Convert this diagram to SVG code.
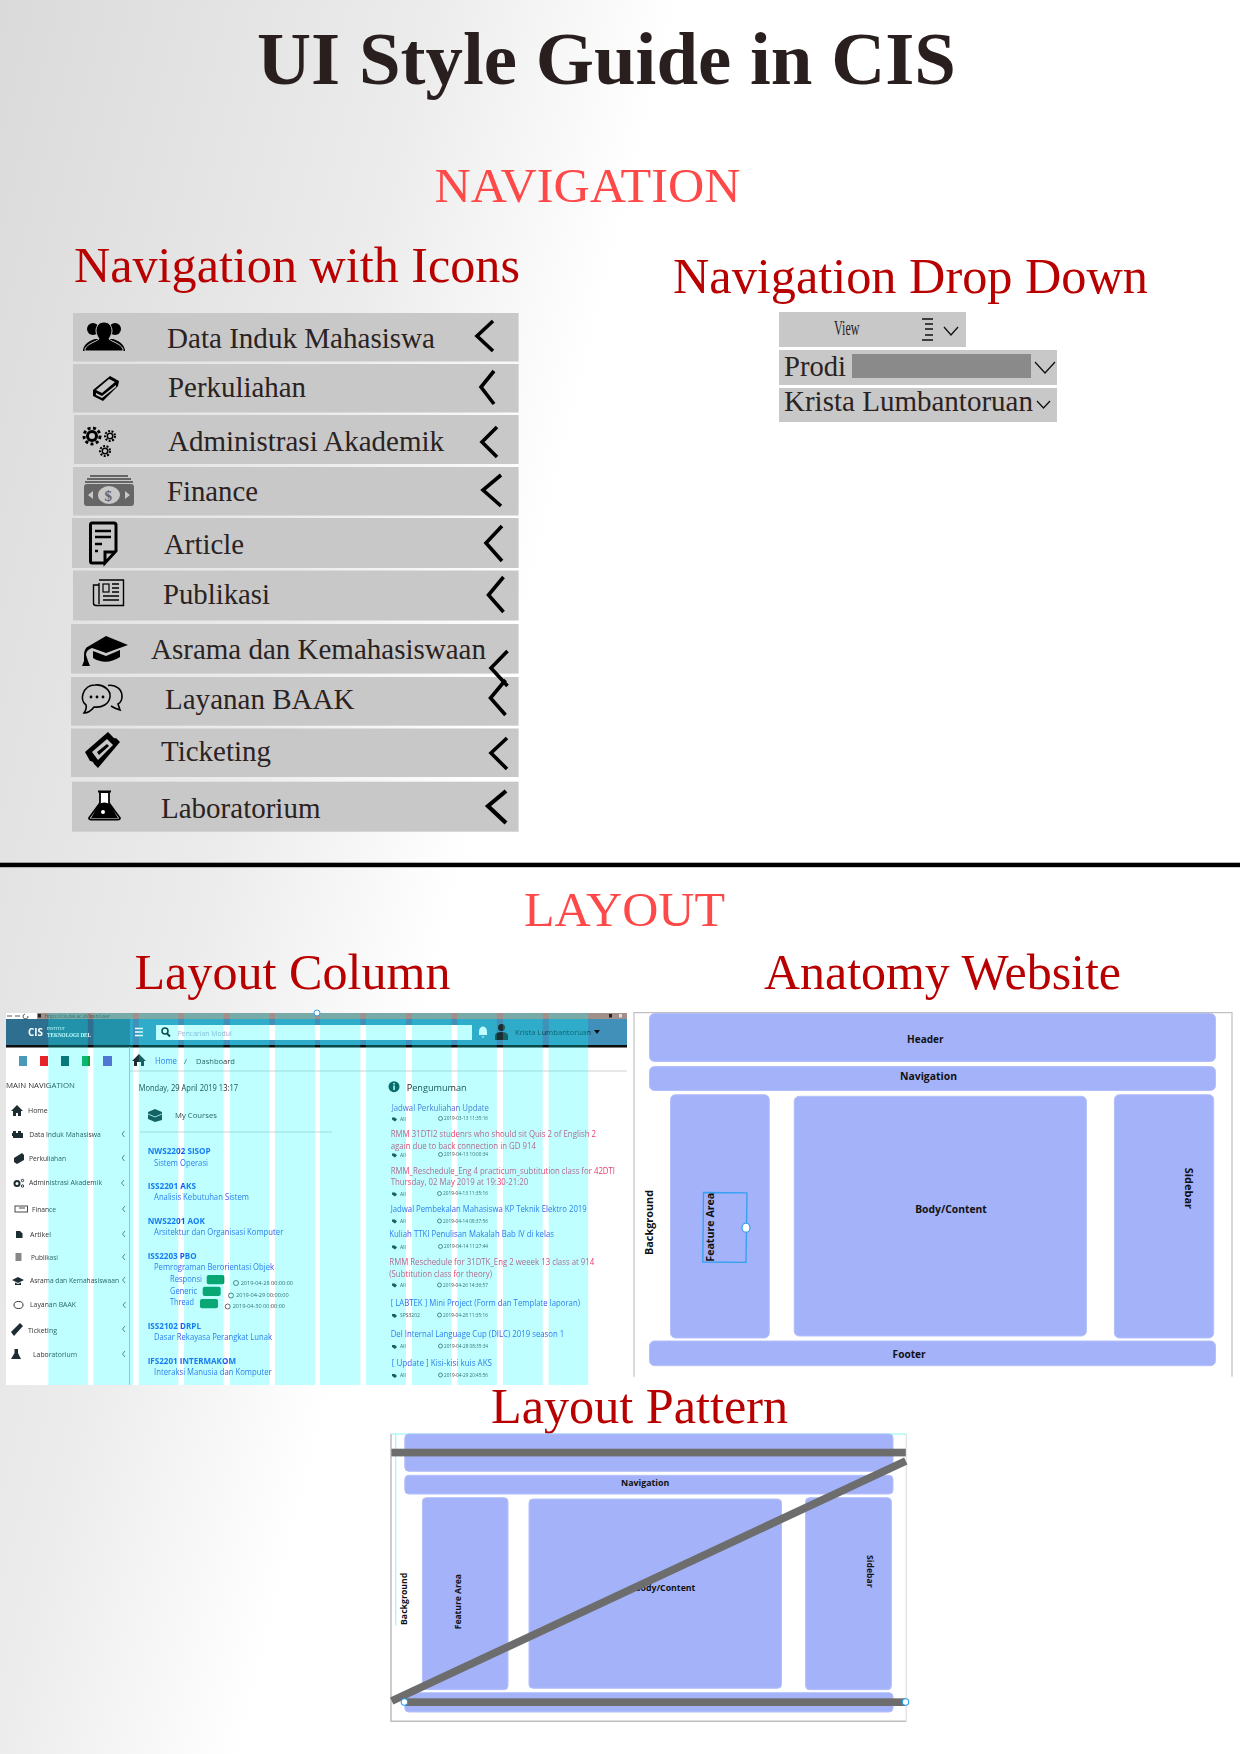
<svg xmlns="http://www.w3.org/2000/svg" width="1240" height="1754" viewBox="0 0 1240 1754">
<defs>
<linearGradient id="bg" gradientUnits="userSpaceOnUse" x1="0" y1="0" x2="640" y2="160">
<stop offset="0" stop-color="#dadada"/><stop offset="0.64" stop-color="#ececec"/><stop offset="1" stop-color="#ffffff"/>
</linearGradient>
<filter id="soft" x="-2%" y="-2%" width="104%" height="104%"><feGaussianBlur stdDeviation="0.35"/></filter>
</defs>
<style>
text{font-family:"Liberation Serif","Times New Roman",serif}
.h1{font-size:75px;font-weight:bold;fill:#2a1f1f}
.h2{font-size:48px;fill:#ff4848}
.h3{font-size:50px;fill:#b90000}
.row{fill:#c8c8c8}
.lbl{font-size:29px;fill:#2b2222}
.chev{fill:none;stroke:#000;stroke-width:3.6}
.thin{fill:none;stroke:#111;stroke-width:1.3}
.s{font-family:"Open Sans","Noto Sans",sans-serif;font-size:8px;fill:#333}
.b{font-family:"Open Sans","Noto Sans",sans-serif;font-size:8.5px;font-weight:bold;fill:#1c50f0}
.l{font-family:"Open Sans","Noto Sans",sans-serif;font-size:8.5px;fill:#3a55e8}
.r{font-family:"Open Sans","Noto Sans",sans-serif;font-size:8.5px;fill:#e83a68}
.t{font-family:"Open Sans","Noto Sans",sans-serif;font-size:5px;fill:#444}
.col{fill:#00ffff;opacity:.25}
.blk{fill:#a4b2f9;stroke:#b4c0fa;stroke-width:1}
.w{font-family:"Open Sans","Noto Sans",sans-serif;font-weight:bold;font-size:11px;fill:#111}
.bar{fill:#6d6d6d}
.ic{fill:#000}
.ico{fill:none;stroke:#000;stroke-width:2.4}
.mini{fill:#1f2f33}
.mc{fill:none;stroke:#555;stroke-width:.9}
</style>
<rect width="1240" height="1754" fill="url(#bg)"/>

<g id="titles">
<text class="h1" x="257" y="84" textLength="699" lengthAdjust="spacingAndGlyphs">UI Style Guide in CIS</text>
<text class="h2" x="434.500" y="201.700" textLength="306" lengthAdjust="spacingAndGlyphs">NAVIGATION</text>
<text class="h3" x="74" y="281.700" textLength="446" lengthAdjust="spacingAndGlyphs">Navigation with Icons</text>
<text class="h3" x="673" y="293.300" textLength="475" lengthAdjust="spacingAndGlyphs">Navigation Drop Down</text>
<text class="h2" x="524" y="926" textLength="201" lengthAdjust="spacingAndGlyphs">LAYOUT</text>
<text class="h3" x="134.500" y="989" textLength="316" lengthAdjust="spacingAndGlyphs">Layout Column</text>
<text class="h3" x="764" y="989" textLength="357" lengthAdjust="spacingAndGlyphs">Anatomy Website</text>
<text class="h3" x="491" y="1423" textLength="297" lengthAdjust="spacingAndGlyphs">Layout Pattern</text>
</g>
<rect id="divider" x="0" y="862.700" width="1240" height="4.500" fill="#000"/>

<g id="nav-data-induk">
<rect class="row" x="73" y="313" width="445.600" height="48.500"/>
<circle class="ic" cx="93" cy="329" r="6"/><circle class="ic" cx="115" cy="329" r="6"/>
<path class="ic" d="M83 350c1-6 6-9 12-11h12v12H83zM125 350c-1-6-6-9-12-11h-12v12h24z"/>
<path class="ic" stroke="#c8c8c8" stroke-width="1" d="M104 322c5 0 8 4 8 9 0 3-2 6-3 8 3 3 11 4 14 10v2H85v-2c3-6 11-7 14-10-1-2-3-5-3-8 0-5 3-9 8-9z"/>
<text class="lbl" x="167" y="348" textLength="268" lengthAdjust="spacingAndGlyphs">Data Induk Mahasiswa</text>
<path class="chev" d="M493 321L477 336L493 351"/>
</g>
<g id="nav-perkuliahan">
<rect class="row" x="73" y="364" width="445.600" height="48.500"/>
<path class="ic" d="M93 390L110 376L119 381L118 386L103 401L93 396z"/>
<path fill="#c8c8c8" d="M96 390L109 379L115 382L102 393zM96 393L102 396L116 385L116 387L102 398L96 395z"/>
<text class="lbl" x="168" y="397" textLength="138" lengthAdjust="spacingAndGlyphs">Perkuliahan</text>
<path class="chev" d="M494 371L481 387L494 404"/>
</g>
<g id="nav-administrasi">
<rect class="row" x="74" y="415" width="444.600" height="49"/>
<circle class="ic" cx="92" cy="436" r="6"/><circle fill="none" stroke="#000" stroke-width="3" stroke-dasharray="3 2.500" cx="92" cy="436" r="8"/><circle class="row" cx="92" cy="436" r="3"/>
<circle class="ic" cx="110" cy="436" r="3.500"/><circle fill="none" stroke="#000" stroke-width="2" stroke-dasharray="2 1.500" cx="110" cy="436" r="5"/><circle class="row" cx="110" cy="436" r="2"/>
<circle class="ic" cx="105" cy="451" r="3.500"/><circle fill="none" stroke="#000" stroke-width="2" stroke-dasharray="2 1.500" cx="105" cy="451" r="5"/><circle class="row" cx="105" cy="451" r="2"/>
<text class="lbl" x="168" y="451" textLength="276" lengthAdjust="spacingAndGlyphs">Administrasi Akademik</text>
<path class="chev" d="M497 427L482 442L497 457"/>
</g>
<g id="nav-finance">
<rect class="row" x="73" y="467" width="445.600" height="48.500"/>
<path fill="none" stroke="#666" stroke-width="1.800" d="M90 476H128M87 479H131M85 482H133"/>
<rect x="84" y="484" width="50" height="22" rx="3" fill="#666"/>
<ellipse cx="109" cy="495" rx="11" ry="9" fill="#c8c8c8"/>
<path fill="#c8c8c8" d="M93 491L88 495L93 499zM125 491L130 495L125 499z"/>
<text x="104.500" y="500.500" font-size="15" font-weight="bold" fill="#666">$</text>
<text class="lbl" x="167" y="501" textLength="91" lengthAdjust="spacingAndGlyphs">Finance</text>
<path class="chev" d="M501 475L483 490L501 506"/>
</g>
<g id="nav-article">
<rect class="row" x="72" y="518" width="446.600" height="50"/>
<path fill="none" stroke="#000" stroke-width="3" d="M105 563H92Q90.500 563 90.500 561V525Q90.500 523 92 523H114Q116 523 116 525V551L105 563V552H116"/>
<path fill="none" stroke="#000" stroke-width="2.600" d="M95 531H111M95 537H111M95 544H102M95 551H98"/>
<text class="lbl" x="164" y="554" textLength="80" lengthAdjust="spacingAndGlyphs">Article</text>
<path class="chev" d="M502 526L486 543L502 561"/>
</g>
<g id="nav-publikasi">
<rect class="row" x="73" y="570.500" width="445.600" height="50"/>
<path fill="none" stroke="#000" stroke-width="1.400" d="M99 583V604M99 580H123.500V605.500H96Q93.500 605.500 93.500 603V585H99M103 596H119M103 600H119M112 584H119M112 588H119M112 592H119"/>
<rect x="103" y="584" width="6" height="8" fill="none" stroke="#000" stroke-width="1.200"/>
<text class="lbl" x="163" y="604" textLength="107" lengthAdjust="spacingAndGlyphs">Publikasi</text>
<path class="chev" d="M503.500 577L488.500 595L503.500 612"/>
</g>
<g id="nav-layanan">
<rect class="row" x="71" y="677" width="447.600" height="48.700"/>
<path fill="none" stroke="#000" stroke-width="1.600" d="M95 685C103 684 111 690 110 697C109 704 102 708 94 707C91 711 87 713 84 713C86 710 87 708 86 705C82 702 82 697 83 694C85 688 90 685 95 685z"/>
<path fill="none" stroke="#000" stroke-width="1.600" d="M108 685.500C116 684 122 690 122 696C122 700 120 703 118 704L120 710C117 709 114 708 111 706"/>
<circle class="ic" cx="91" cy="697" r="1.400"/><circle class="ic" cx="97" cy="697" r="1.400"/><circle class="ic" cx="103" cy="697" r="1.400"/>
<text class="lbl" x="165" y="709" textLength="189.500" lengthAdjust="spacingAndGlyphs">Layanan BAAK</text>
<path class="chev" d="M505.500 680L490.500 698L505.500 715"/>
</g>
<g id="nav-asrama">
<rect class="row" x="71" y="624" width="447.600" height="49.600"/>
<path class="ic" d="M106 636L128 645L106 653L92 648Q86 650 86 655L88 661L90 666H82L84 661L84 655Q84 648 89 646z"/>
<path class="ic" d="M93 651L106 656L120 650V657Q106 666 93 658z"/>
<text class="lbl" x="151" y="659" textLength="335" lengthAdjust="spacingAndGlyphs">Asrama dan Kemahasiswaan</text>
<path class="chev" d="M507.500 651L491 668L507.500 686"/>
</g>
<g id="nav-ticketing">
<rect class="row" x="71" y="728.500" width="447.600" height="48.500"/>
<path class="ic" d="M85 752L108 732L112 736Q114 739 116 738L120 742L98 768L94 764Q93 761 90 761z"/>
<path fill="#c8c8c8" d="M92 752L107 739L113 745L98 760z"/>
<path class="ic" d="M97 752L107 744L109 746L99 755z"/>
<text class="lbl" x="161" y="761" textLength="110" lengthAdjust="spacingAndGlyphs">Ticketing</text>
<path class="chev" d="M507 738L491 753L507 769"/>
</g>
<g id="nav-laboratorium">
<rect class="row" x="72" y="781.700" width="446.600" height="50"/>
<path fill="#fff" stroke="#000" stroke-width="1.800" d="M98 791.500H111M100 792V803L89 818Q89 819.500 91 819.500H118Q120 819.500 120 818L109 803V792z"/>
<path class="ic" d="M99 804Q104 801 110 804L118 818H91z"/>
<circle fill="#fff" cx="103" cy="812" r="2"/>
<text class="lbl" x="161" y="818" textLength="159.500" lengthAdjust="spacingAndGlyphs">Laboratorium</text>
<path class="chev" style="stroke-width:4.200" d="M506 791L488 806L506 823"/>
</g>

<g id="dropdown-view">
<rect class="row" x="779" y="312" width="187" height="35"/>
<text x="834" y="335" font-size="21" fill="#2b2222" textLength="25.500" lengthAdjust="spacingAndGlyphs">View</text>
<path class="thin" d="M922 319H933M925 324H933M925 329H933M925 335H933M922 340H933"/>
<path class="thin" d="M944 327L951 335L958 327"/>
</g>
<g id="dropdown-prodi">
<rect class="row" x="779" y="350" width="278" height="35"/>
<text class="lbl" x="784" y="376" textLength="62" lengthAdjust="spacingAndGlyphs">Prodi</text>
<rect x="852" y="354" width="179" height="24" fill="#8a8a8a"/>
<path class="thin" d="M1035 362L1045 373L1055 362"/>
</g>
<g id="dropdown-krista">
<rect class="row" x="779" y="388" width="278" height="34"/>
<text class="lbl" x="784" y="411" textLength="249" lengthAdjust="spacingAndGlyphs">Krista Lumbantoruan</text>
<path class="thin" d="M1037 401L1043.500 408L1050 401"/>
</g>

<g id="layout-column">
<rect x="6" y="1013" width="621" height="372" fill="#fff"/>
<g filter="url(#soft)">
<rect x="37" y="1013" width="590" height="6" fill="#a08f8a"/>
<rect x="6" y="1019" width="621" height="26" fill="#3f90ba"/>
<rect x="6" y="1019" width="124" height="26" fill="#2f6e8e"/>
<rect x="6" y="1045" width="621" height="2.500" fill="#0a0a0a"/>
<path fill="none" stroke="#333" stroke-width=".8" d="M7 1016H12M15 1016H20M25 1014A2.500 2.500 0 1 0 28 1016"/>
<rect x="38" y="1014" width="3" height="3.500" fill="#222"/>
<text class="t" x="45" y="1017.500" textLength="65" lengthAdjust="spacingAndGlyphs">https://cis.del.ac.id/loon/user</text>
<rect x="609" y="1014" width="3" height="3.500" fill="#222"/><rect x="619" y="1014" width="3" height="3.500" fill="#ddd"/>
<text x="28" y="1035.700" style="font-family:'Open Sans',sans-serif;font-size:11px;font-weight:bold;fill:#fff" textLength="15" lengthAdjust="spacingAndGlyphs">CIS</text>
<text x="47" y="1030" style="font-family:'Liberation Serif',serif;font-size:4px;fill:#fff">INSTITUT</text>
<text x="47" y="1036.700" style="font-family:'Liberation Serif',serif;font-size:5.500px;font-weight:bold;fill:#fff" textLength="44" lengthAdjust="spacingAndGlyphs">TEKNOLOGI DEL</text>
<path stroke="#fff" stroke-width="1.300" d="M135 1028.500H143M135 1032H143M135 1035.500H143"/>
<rect x="156" y="1025" width="316" height="15" fill="#fff"/>
<circle cx="165" cy="1031" r="3" fill="none" stroke="#111" stroke-width="1.500"/><path stroke="#111" stroke-width="1.800" d="M167 1033.500L170 1036.500"/>
<text class="s" x="177.700" y="1035.700" style="fill:#aac" textLength="54" lengthAdjust="spacingAndGlyphs">Pencarian Modul</text>
<path fill="#fff" d="M483 1026.500Q479 1027 479 1032V1035H487V1032Q487 1027 483 1026.500zM481.500 1036.500H484.500L483 1038z"/>
<circle class="mini" cx="501.500" cy="1027.500" r="3.500"/><path class="mini" d="M495 1040V1035Q496 1032 501.500 1032Q507 1032 508 1035V1040z"/>
<text class="s" x="515" y="1035" style="fill:#15303c" textLength="76" lengthAdjust="spacingAndGlyphs">Krista Lumbantoruan</text>
<path fill="#111" d="M594 1030H600L597 1034z"/>

<rect x="19" y="1056" width="8" height="10" fill="#4a9ab8"/><rect x="40" y="1056" width="8" height="10" fill="#e8202c"/><rect x="61" y="1056" width="8" height="10" fill="#0e4c4c"/><rect x="82" y="1056" width="8" height="10" fill="#10a040"/><rect x="103" y="1056" width="9" height="10" fill="#6a48c0"/>
<text class="s" x="6" y="1088" textLength="69" lengthAdjust="spacingAndGlyphs">MAIN NAVIGATION</text>
<path d="M129.500 1047V1385" stroke="#bdbdbd" stroke-width="1"/>
<path d="M130 1071H627M140 1132H332" stroke="#d0d0d0" stroke-width="1"/>
<path class="mini" d="M17 1105L23 1111H21V1116H18V1113H16V1116H13V1111H11z"/>
<text class="s" x="28" y="1113" style="font-size:7px">Home</text>
<path class="mini" d="M13 1131h3v2h2v-2h3v2h2v5H13v-2h-1v-3h1z"/>
<text class="s" x="29.300" y="1137.300" style="font-size:7px" textLength="71.400" lengthAdjust="spacingAndGlyphs">Data Induk Mahasiswa</text>
<path class="mini" d="M14 1158L22 1153L24 1155L24 1160L17 1164L14 1162z"/>
<text class="s" x="29" y="1161" style="font-size:7px" textLength="37" lengthAdjust="spacingAndGlyphs">Perkuliahan</text>
<circle cx="17" cy="1183.500" r="2.500" fill="none" stroke="#1f2f33" stroke-width="2"/><circle cx="22.500" cy="1180.500" r="1.200" fill="none" stroke="#1f2f33" stroke-width="1"/><circle cx="22.500" cy="1186" r="1.200" fill="none" stroke="#1f2f33" stroke-width="1"/>
<text class="s" x="29" y="1185" style="font-size:7px" textLength="73" lengthAdjust="spacingAndGlyphs">Administrasi Akademik</text>
<rect x="15" y="1206" width="12.500" height="6" fill="none" stroke="#333" stroke-width=".9"/><path stroke="#333" stroke-width=".9" d="M19 1208H25"/>
<text class="s" x="32" y="1212" style="font-size:7px" textLength="24" lengthAdjust="spacingAndGlyphs">Finance</text>
<path class="mini" d="M16 1231H20L22.500 1233.500V1238H16z"/>
<text class="s" x="30" y="1236.700" style="font-size:7px" textLength="21" lengthAdjust="spacingAndGlyphs">Artikel</text>
<rect x="15.500" y="1253" width="6" height="8" fill="#888"/>
<text class="s" x="31" y="1260" style="font-size:7px" textLength="27" lengthAdjust="spacingAndGlyphs">Publikasi</text>
<path class="mini" d="M18 1277L24 1280L18 1283L12 1280zM15 1282.500L18 1284L21 1282.500V1285H15z"/>
<text class="s" x="30" y="1283" style="font-size:7px" textLength="89" lengthAdjust="spacingAndGlyphs">Asrama dan Kemahasiswaan</text>
<ellipse cx="18.500" cy="1305" rx="4.500" ry="3.500" fill="none" stroke="#333" stroke-width="1"/>
<text class="s" x="30" y="1307" style="font-size:7px" textLength="46" lengthAdjust="spacingAndGlyphs">Layanan BAAK</text>
<path class="mini" d="M11 1332L20 1323L23 1326L14 1336z"/>
<text class="s" x="28" y="1333" style="font-size:7px" textLength="29" lengthAdjust="spacingAndGlyphs">Ticketing</text>
<path class="mini" d="M14.500 1349H18V1353L21 1359H11L14.500 1353z"/>
<text class="s" x="33" y="1357" style="font-size:7px" textLength="44" lengthAdjust="spacingAndGlyphs">Laboratorium</text>
<path class="mc" d="M124.500 1131L122 1134L124.500 1137M124.500 1155L122 1158L124.500 1161M124 1180L121.500 1183L124 1186M125 1206L122.500 1209L125 1212M125 1231L122.500 1234L125 1237M125 1254L122.500 1257L125 1260M125 1277L122.500 1280L125 1283M125.500 1302L123 1305L125.500 1308M125 1326L122.500 1329L125 1332M125 1351L122.500 1354L125 1357"/>

<path class="mini" d="M139 1054L146 1061H144V1066H141V1062H137V1066H134V1061H132z"/>
<text class="l" x="155" y="1064" textLength="22" lengthAdjust="spacingAndGlyphs">Home</text>
<text class="s" x="184" y="1064">/</text>
<text class="s" x="196" y="1064" textLength="39" lengthAdjust="spacingAndGlyphs">Dashboard</text>
<text class="s" x="138.700" y="1090.700" style="font-size:8.500px;fill:#222" textLength="99.300" lengthAdjust="spacingAndGlyphs">Monday, 29 April 2019 13:17</text>
<path class="mini" d="M148 1112L155 1109L162 1112V1120L155 1122L148 1119z"/><path stroke="#fff" stroke-width=".8" fill="none" d="M148 1114L155 1117L162 1114"/>
<text class="s" x="175" y="1118" textLength="42" lengthAdjust="spacingAndGlyphs">My Courses</text>

<text class="b" x="147.700" y="1154" textLength="63" lengthAdjust="spacingAndGlyphs">NWS2202 SISOP</text>
<text class="l" x="154" y="1165.700" textLength="54" lengthAdjust="spacingAndGlyphs">Sistem Operasi</text>
<text class="b" x="147.700" y="1189.300" textLength="48.300" lengthAdjust="spacingAndGlyphs">ISS2201 AKS</text>
<text class="l" x="154" y="1200.300" textLength="95" lengthAdjust="spacingAndGlyphs">Analisis Kebutuhan Sistem</text>
<text class="b" x="147.700" y="1224.300" textLength="57.300" lengthAdjust="spacingAndGlyphs">NWS2201 AOK</text>
<text class="l" x="154" y="1235.300" textLength="129.300" lengthAdjust="spacingAndGlyphs">Arsitektur dan Organisasi Komputer</text>
<text class="b" x="147.700" y="1259" textLength="49" lengthAdjust="spacingAndGlyphs">ISS2203 PBO</text>
<text class="l" x="154" y="1270" textLength="120" lengthAdjust="spacingAndGlyphs">Pemrograman Berorientasi Objek</text>
<text class="l" x="170" y="1281.700" textLength="32" lengthAdjust="spacingAndGlyphs">Responsi</text>
<rect x="206.700" y="1275" width="17.600" height="9.300" rx="2" fill="#0f8a45"/>
<text class="l" x="170" y="1294" textLength="27" lengthAdjust="spacingAndGlyphs">Generic</text>
<rect x="202.700" y="1286.700" width="18" height="9.300" rx="2" fill="#0f8a45"/>
<text class="l" x="170" y="1305" textLength="24" lengthAdjust="spacingAndGlyphs">Thread</text>
<rect x="200" y="1299" width="18" height="9.300" rx="2" fill="#0f8a45"/>
<circle class="mc" cx="236" cy="1283" r="2.500"/><text class="t" x="240.700" y="1285" style="font-size:6px" textLength="52.300" lengthAdjust="spacingAndGlyphs">2019-04-28 00:00:00</text>
<circle class="mc" cx="231" cy="1295.500" r="2.500"/><text class="t" x="236" y="1297.300" style="font-size:6px" textLength="52.700" lengthAdjust="spacingAndGlyphs">2019-04-29 00:00:00</text>
<circle class="mc" cx="227.700" cy="1306.500" r="2.500"/><text class="t" x="232.700" y="1308.300" style="font-size:6px" textLength="52.300" lengthAdjust="spacingAndGlyphs">2019-04-30 00:00:00</text>
<text class="b" x="147.700" y="1329" textLength="53.300" lengthAdjust="spacingAndGlyphs">ISS2102 DRPL</text>
<text class="l" x="154" y="1340" textLength="118" lengthAdjust="spacingAndGlyphs">Dasar Rekayasa Perangkat Lunak</text>
<text class="b" x="147.700" y="1363.700" textLength="88.300" lengthAdjust="spacingAndGlyphs">IFS2201 INTERMAKOM</text>
<text class="l" x="154" y="1374.700" textLength="117.700" lengthAdjust="spacingAndGlyphs">Interaksi Manusia dan Komputer</text>

<circle cx="394" cy="1086.700" r="5.500" fill="#0f3a3a"/><rect x="393.300" y="1085.500" width="1.500" height="4.500" fill="#fff"/><rect x="393.300" y="1083" width="1.500" height="1.500" fill="#fff"/>
<text class="s" x="406.700" y="1090.700" style="font-size:9.500px;fill:#222" textLength="60" lengthAdjust="spacingAndGlyphs">Pengumuman</text>

<text class="l" x="391.700" y="1110.700" style="fill:#5a5ad0" textLength="97.300" lengthAdjust="spacingAndGlyphs">Jadwal Perkuliahan Update</text>
<text class="r" x="390.700" y="1137" textLength="205.300" lengthAdjust="spacingAndGlyphs">RMM 31DTI2 studenrs who should sit Quis 2 of English 2</text>
<text class="r" x="390.700" y="1149" textLength="145.300" lengthAdjust="spacingAndGlyphs">again due to back connection in GD 914</text>
<text class="r" x="390.700" y="1174" textLength="224.300" lengthAdjust="spacingAndGlyphs">RMM_Reschedule_Eng 4 practicum_subtitution class for 42DTI</text>
<text class="r" x="390.700" y="1185.300" textLength="137.600" lengthAdjust="spacingAndGlyphs">Thursday, 02 May 2019 at 19:30-21:20</text>
<text class="l" x="390.700" y="1212.300" textLength="196" lengthAdjust="spacingAndGlyphs">Jadwal Pembekalan Mahasiswa KP Teknik Elektro 2019</text>
<text class="l" x="389.300" y="1237.300" textLength="164.700" lengthAdjust="spacingAndGlyphs">Kuliah TTKI Penulisan Makalah Bab IV di kelas</text>
<text class="r" x="389.300" y="1265.300" textLength="205" lengthAdjust="spacingAndGlyphs">RMM Reschedule for 31DTK_Eng 2 weeek 13 class at 914</text>
<text class="r" x="389.300" y="1277.300" textLength="102.700" lengthAdjust="spacingAndGlyphs">(Subtitution class for theory)</text>
<text class="l" x="390.700" y="1305.700" textLength="189.300" lengthAdjust="spacingAndGlyphs">[ LABTEK ] Mini Project (Form dan Template laporan)</text>
<text class="l" x="390.700" y="1336.700" textLength="173.600" lengthAdjust="spacingAndGlyphs">Del Internal Language Cup (DILC) 2019 season 1</text>
<text class="l" x="391.700" y="1366" textLength="100.300" lengthAdjust="spacingAndGlyphs">[ Update ] Kisi-kisi  kuis AKS</text>

<path class="mini" d="M392 1117.500h3l2 2-2 2-3-2zM392 1153.500h3l2 2-2 2-3-2zM392 1192.500h3l2 2-2 2-3-2zM392 1219.500h3l2 2-2 2-3-2zM392 1245.500h3l2 2-2 2-3-2zM392 1283.500h3l2 2-2 2-3-2zM392 1314h3l2 2-2 2-3-2zM392 1345h3l2 2-2 2-3-2zM392 1374h3l2 2-2 2-3-2z"/>
<text class="t" x="400" y="1120.700">All</text>
<text class="t" x="400" y="1156.700">All</text>
<text class="t" x="400" y="1196">All</text>
<text class="t" x="400" y="1223.300">All</text>
<text class="t" x="400" y="1249">All</text>
<text class="t" x="400" y="1287.300">All</text>
<text class="t" x="400" y="1317.300">SPS3202</text>
<text class="t" x="400" y="1348.300">All</text>
<text class="t" x="400" y="1377.300">All</text>
<g class="mc"><circle cx="440.500" cy="1118.500" r="2"/><circle cx="440.500" cy="1154.500" r="2"/><circle cx="439.500" cy="1193.500" r="2"/><circle cx="439.500" cy="1221" r="2"/><circle cx="440.500" cy="1246.500" r="2"/><circle cx="439.500" cy="1285" r="2"/><circle cx="439.500" cy="1315" r="2"/><circle cx="440.500" cy="1346" r="2"/><circle cx="440.500" cy="1375" r="2"/></g>
<text class="t" x="444" y="1120" textLength="44" lengthAdjust="spacingAndGlyphs">2019-03-13 11:35:16</text>
<text class="t" x="444" y="1156" textLength="44" lengthAdjust="spacingAndGlyphs">2019-04-13 10:00:34</text>
<text class="t" x="443" y="1195.300" textLength="45" lengthAdjust="spacingAndGlyphs">2019-04-13 11:35:16</text>
<text class="t" x="443" y="1222.700" textLength="45" lengthAdjust="spacingAndGlyphs">2019-04-14 09:37:56</text>
<text class="t" x="444" y="1248.300" textLength="44" lengthAdjust="spacingAndGlyphs">2019-04-14 11:27:44</text>
<text class="t" x="443" y="1287" textLength="45" lengthAdjust="spacingAndGlyphs">2019-04-26 14:36:57</text>
<text class="t" x="443" y="1317" textLength="45" lengthAdjust="spacingAndGlyphs">2019-04-28 11:35:16</text>
<text class="t" x="444" y="1348" textLength="44" lengthAdjust="spacingAndGlyphs">2019-04-28 08:35:34</text>
<text class="t" x="444" y="1377" textLength="44" lengthAdjust="spacingAndGlyphs">2019-04-29 20:45:56</text>
</g>

<rect class="col" x="48.300" y="1013" width="39.500" height="372"/>
<rect class="col" x="93.400" y="1013" width="39.500" height="372"/>
<rect class="col" x="138.800" y="1013" width="39.500" height="372"/>
<rect class="col" x="184" y="1013" width="39.500" height="372"/>
<rect class="col" x="229.800" y="1013" width="39.500" height="372"/>
<rect class="col" x="275" y="1013" width="40" height="372"/>
<rect class="col" x="320" y="1013" width="40.300" height="372"/>
<rect class="col" x="366" y="1013" width="40" height="372"/>
<rect class="col" x="412" y="1013" width="39.500" height="372"/>
<rect class="col" x="457.300" y="1013" width="39.500" height="372"/>
<rect class="col" x="503" y="1013" width="39.700" height="372"/>
<rect class="col" x="548.700" y="1013" width="39.500" height="372"/>
<circle cx="317" cy="1013" r="3" fill="#fff" stroke="#3a9ae0" stroke-width="1"/>
</g>

<g id="anatomy-website">
<rect x="634" y="1013" width="598" height="363.700" fill="#fff"/>
<path fill="none" stroke="#c0c0c0" stroke-width="1.200" d="M634 1376.700V1012.700H1232V1376.700"/>
<rect class="blk" x="649.500" y="1013.500" width="566" height="48" rx="5"/>
<rect class="blk" x="649.500" y="1066.500" width="566" height="24" rx="5"/>
<rect class="blk" x="670.500" y="1094.700" width="98.800" height="243.300" rx="5"/>
<rect class="blk" x="794.200" y="1096.300" width="292.200" height="239.700" rx="5"/>
<rect class="blk" x="1114.400" y="1094.700" width="99.300" height="243.300" rx="5"/>
<rect class="blk" x="649.500" y="1341" width="566" height="24.700" rx="5"/>
<text class="w" x="907" y="1042.700" textLength="36.600" lengthAdjust="spacingAndGlyphs">Header</text>
<text class="w" x="900" y="1080.300" textLength="57" lengthAdjust="spacingAndGlyphs">Navigation</text>
<text class="w" x="915.200" y="1212.700" textLength="71.600" lengthAdjust="spacingAndGlyphs">Body/Content</text>
<text class="w" x="892.600" y="1358" textLength="33.100" lengthAdjust="spacingAndGlyphs">Footer</text>
<text class="w" transform="translate(652.600 1255) rotate(-90)" textLength="65" lengthAdjust="spacingAndGlyphs">Background</text>
<path fill="none" stroke="#33a0f0" stroke-width="1.300" d="M703.500 1192.500L747 1192.800L746 1262.300L702.800 1262z"/>
<text class="w" transform="translate(714.400 1261.700) rotate(-90)" textLength="69" lengthAdjust="spacingAndGlyphs">Feature Area</text>
<ellipse cx="746" cy="1227.700" rx="4" ry="4.500" fill="#fff" stroke="#33a0f0" stroke-width="1.200"/>
<text class="w" transform="translate(1185.200 1167.700) rotate(90)" textLength="41.300" lengthAdjust="spacingAndGlyphs">Sidebar</text>
</g>

<g id="layout-pattern">
<rect x="391" y="1434" width="515.200" height="287.300" fill="#fff"/>
<path fill="none" stroke="#bdbdbd" stroke-width="1.500" d="M391 1434V1721.300H906.200"/>
<path fill="none" stroke="#d8d8d8" stroke-width="1" d="M906.200 1434V1721.300"/>
<path fill="none" stroke="#86f6f6" stroke-width="1" d="M391 1434H906.200M395.800 1434V1625.700"/>
<rect class="blk" x="404.800" y="1434" width="488.200" height="37.300" rx="4"/>
<rect class="blk" x="404.800" y="1475.300" width="488.200" height="18.700" rx="4"/>
<rect class="blk" x="422.400" y="1497.700" width="85.600" height="192" rx="4"/>
<rect class="blk" x="529" y="1499" width="252.500" height="189.300" rx="4"/>
<rect class="blk" x="805.600" y="1497.700" width="85.800" height="192" rx="4"/>
<rect class="blk" x="404.800" y="1692.700" width="488.200" height="19.300" rx="4"/>
<text class="w" x="621" y="1486" style="font-size:9.500px" textLength="48.300" lengthAdjust="spacingAndGlyphs">Navigation</text>
<text class="w" x="634.700" y="1591.300" style="font-size:9.500px" textLength="60.700" lengthAdjust="spacingAndGlyphs">Body/Content</text>
<text class="w" transform="translate(406.500 1625) rotate(-90)" style="font-size:9.500px" textLength="52.300" lengthAdjust="spacingAndGlyphs">Background</text>
<text class="w" transform="translate(461.300 1629.300) rotate(-90)" style="font-size:9.500px" textLength="55.300" lengthAdjust="spacingAndGlyphs">Feature Area</text>
<text class="w" transform="translate(867 1555) rotate(90)" style="font-size:9.500px" textLength="32.700" lengthAdjust="spacingAndGlyphs">Sidebar</text>
<rect class="bar" x="391.400" y="1448.700" width="514.400" height="7.700"/>
<rect class="bar" x="404.800" y="1698.300" width="501" height="7.700"/>
<path d="M391.700 1701L905.800 1461" stroke="#6d6d6d" stroke-width="7.800" fill="none"/>
<circle cx="404.400" cy="1702" r="3.200" fill="#fff" stroke="#2a9df0" stroke-width="1.100"/>
<circle cx="905.500" cy="1702" r="3.200" fill="#fff" stroke="#2a9df0" stroke-width="1.100"/>
</g>
</svg>
